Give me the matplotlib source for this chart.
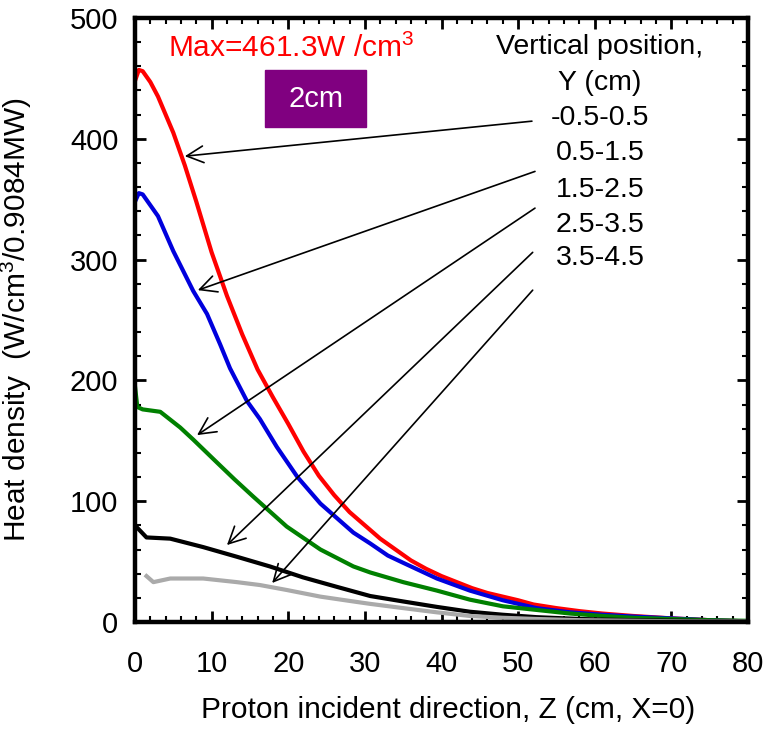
import numpy as np
import matplotlib
matplotlib.use("Agg")
import matplotlib.pyplot as plt
from matplotlib.patches import Rectangle
from matplotlib.ticker import MultipleLocator

plt.rcParams['font.family'] = ['Liberation Sans', 'DejaVu Sans']
plt.rcParams['mathtext.fontset'] = 'custom'
plt.rcParams['mathtext.rm'] = 'Liberation Sans'
plt.rcParams['mathtext.it'] = 'Liberation Sans:italic'

# heat density along Z for each vertical slab (W/cm3 per 0.9084 MW)
z_red = [0, 0.5, 1, 2, 3, 5, 6.5, 8, 10, 12, 14, 16, 18, 20, 22, 24, 26, 28, 30,
         32, 34, 36, 38, 40, 42, 44, 46, 48, 50, 52, 55, 58, 61, 65, 70, 75, 80]
v_red = [448, 457, 456, 447, 435, 405, 378, 348, 306, 270, 238, 209, 186, 164,
         141, 121, 105, 91, 80, 69, 60, 51, 44, 38, 33, 28, 24, 21, 18, 14.5,
         11.5, 9, 7, 5, 3, 1.5, 0.5]

z_blue = [0, 0.5, 1, 3, 5, 7.6, 9.4, 11.1, 12.4, 14.6, 16.3, 18.5, 21.2, 24.2,
          28.5, 30.7, 33, 35, 39.4, 43.7, 48, 52.4, 56.8, 61, 65, 70, 75, 80]
v_blue = [348, 355, 354, 336, 307, 274, 255, 230, 210, 183, 168, 145, 120, 98,
          74, 65, 55, 49, 36, 26, 18, 11.5, 8, 6, 4.5, 3, 1.5, 0.5]

z_green = [0, 0.3, 1, 3.3, 5.9, 7.6, 10.7, 13, 15.4, 19.8, 24.2, 28.5, 30.7,
           35, 39.4, 43.7, 48, 52.4, 56.8, 61, 65, 70, 75, 80]
v_green = [195, 178, 176, 174, 161, 151, 132, 118, 104, 79, 60, 46, 41, 33,
           26, 18.5, 13, 10, 7, 5, 3.5, 2.5, 1.5, 1]

z_black = [0, 1.5, 4.6, 8.9, 13.3, 17.6, 21.9, 26.4, 30.7, 35, 39.4, 43.7, 48,
           52.4, 58, 65, 72, 80]
v_black = [80, 70, 69, 62, 54, 46, 37, 29, 21.5, 17, 12.5, 8.5, 6, 4, 2.5,
           1.5, 1, 0.5]

z_gray = [1.5, 2.4, 4.6, 8.9, 13.3, 16.3, 19.8, 24.2, 28.5, 30.7, 35, 39.4,
          43.7, 48, 52.4, 58, 65, 72, 80]
v_gray = [38, 33, 36, 36, 33, 30.6, 26.5, 21, 17, 15, 11.5, 8, 5, 3.5, 2.5,
          1.5, 1, 0.5, 0.3]

series = [(z_red, v_red, '#ff0000'),
          (z_blue, v_blue, '#0000dd'),
          (z_green, v_green, '#008000'),
          (z_black, v_black, '#000000'),
          (z_gray, v_gray, '#aaaaaa')]

y_ranges = ['-0.5-0.5', '0.5-1.5', '1.5-2.5', '2.5-3.5', '3.5-4.5']
# arrow tails (next to the labels) and heads (on the curves)
arrow_tails = [(51.8, 414.6), (52.2, 373.0), (52.2, 342.6), (51.9, 306.0), (51.9, 274.7)]
arrow_heads = [(6.5, 385.6), (8.2, 274.7), (8.1, 154.7), (12.0, 63.7), (17.9, 32.3)]

fig = plt.figure(figsize=(7.69, 7.29), dpi=100)
ax = fig.add_axes([135 / 769, 107 / 729, 613 / 769, 604 / 729])

for z, v, c in series:
    ax.plot(z, v, color=c, lw=3, solid_joinstyle='round')

ax.set_xlim(0, 80)
ax.set_ylim(0, 500)
ax.xaxis.set_major_locator(MultipleLocator(10))
ax.xaxis.set_minor_locator(MultipleLocator(2))
ax.yaxis.set_major_locator(MultipleLocator(100))
ax.yaxis.set_minor_locator(MultipleLocator(20))
for s in ax.spines.values():
    s.set_linewidth(3.2)
ax.tick_params(which='both', direction='in', top=True, right=True, labelsize=21)
ax.tick_params(which='major', length=8, width=2)
ax.tick_params(which='minor', length=4, width=1.5)
ax.tick_params(axis='x', pad=20)
ax.tick_params(axis='y', pad=12)

ax.set_xlabel('Proton incident direction, Z (cm, X=0)', fontsize=21.5)
ax.set_ylabel('Heat density  (W/cm$^3$/0.9084MW)', fontsize=21.5)
ax.xaxis.set_label_coords(0.51, -0.122)
ax.yaxis.set_label_coords(-0.165, 0.5)

ax.text(4.3, 475, 'Max=461.3W /cm$^3$', color='#ff0000', fontsize=21.5,
        ha='left', va='center')
ax.add_patch(Rectangle((17.0, 409.6), 13.2, 47.2, color='#800080', zorder=3))
ax.text(23.6, 433, '2cm', color='white', fontsize=21, ha='center',
        va='center', zorder=4)

ax.text(60.6, 476, 'Vertical position,', fontsize=20.5, ha='center', va='center')
ax.text(60.6, 446, 'Y (cm)', fontsize=20.5, ha='center', va='center')
label_y = [417, 388, 358, 329, 301]
for lab, yy in zip(y_ranges, label_y):
    ax.text(60.7, yy, lab, fontsize=20.5, ha='center', va='center')

for tail, head in zip(arrow_tails, arrow_heads):
    ax.annotate('', xy=head, xytext=tail,
                arrowprops=dict(arrowstyle='->', color='black', lw=1.2,
                                mutation_scale=30, shrinkA=0, shrinkB=0))

fig.savefig('out.png', dpi=100)
